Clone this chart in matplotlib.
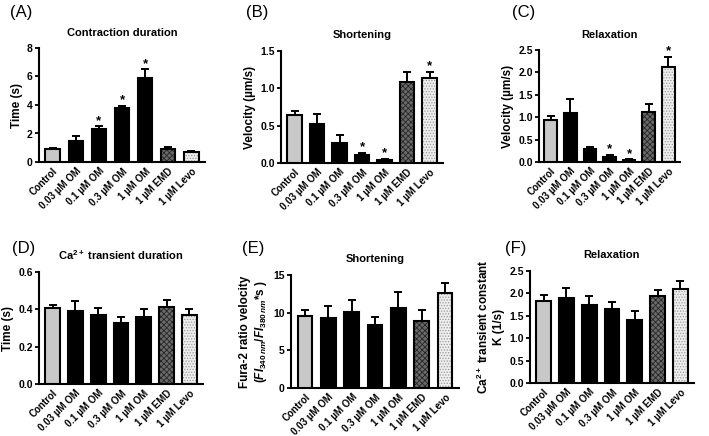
import matplotlib
matplotlib.use("Agg")
import matplotlib.pyplot as plt
import numpy as np

plt.rcParams['font.family'] = ['Liberation Sans', 'DejaVu Sans']
plt.rcParams['mathtext.fontset'] = 'custom'
plt.rcParams['mathtext.rm'] = 'Liberation Sans:bold'
plt.rcParams['mathtext.it'] = 'Liberation Sans:bold:italic'
plt.rcParams['mathtext.bf'] = 'Liberation Sans:bold'
plt.rcParams['hatch.linewidth'] = 0.6

categories = ["Control", "0.03 µM OM", "0.1 µM OM", "0.3 µM OM", "1 µM OM", "1 µM EMD", "1 µM Levo"]

a_vals = [0.9, 1.5, 2.3, 3.8, 5.9, 0.9, 0.7]
a_err = [0.1, 0.35, 0.2, 0.15, 0.6, 0.15, 0.1]
a_star = [2, 3, 4]

b_vals = [0.64, 0.52, 0.27, 0.11, 0.04, 1.08, 1.14]
b_err = [0.06, 0.13, 0.10, 0.03, 0.02, 0.14, 0.08]
b_star = [3, 4, 6]

c_vals = [0.93, 1.10, 0.28, 0.12, 0.04, 1.12, 2.13]
c_err = [0.10, 0.31, 0.06, 0.04, 0.02, 0.18, 0.22]
c_star = [3, 4, 6]

d_vals = [0.405, 0.39, 0.37, 0.325, 0.36, 0.415, 0.37]
d_err = [0.02, 0.055, 0.035, 0.035, 0.04, 0.035, 0.03]

e_vals = [9.6, 9.3, 10.1, 8.4, 10.6, 8.9, 12.6]
e_err = [0.7, 1.6, 1.6, 1.0, 2.1, 1.4, 1.4]

f_vals = [1.84, 1.89, 1.74, 1.66, 1.41, 1.94, 2.09]
f_err = [0.12, 0.23, 0.21, 0.14, 0.19, 0.14, 0.19]

W, H = 709, 436
fig = plt.figure(figsize=(W / 100, H / 100), dpi=100)


def add_ax(x0, x1, ytop, ybot):
    return fig.add_axes([x0 / W, 1 - ybot / H, (x1 - x0) / W, (ybot - ytop) / H])


face = ['#c8c8c8', 'black', 'black', 'black', 'black', '#6a6a6a', '#eeeeee']
hatch = [None, None, None, None, None, 'xxxxxx', '......']
hatchcol = [None, None, None, None, None, '#262626', '#9a9a9a']


def panel(ax, vals, errs, ymax, ystep, title, ylabel, stars=(), fmt='{:.0f}', star_off=None):
    x = np.arange(len(vals))
    ax.set_xlim(-0.6, len(vals) - 0.4)
    ax.set_ylim(0, ymax)
    bw = 0.64
    for i, (v, e) in enumerate(zip(vals, errs)):
        ax.errorbar(x[i], v, yerr=[[0], [e]], fmt='none', ecolor='black', elinewidth=1.4,
                    capsize=3.2, capthick=1.4, zorder=1)
        if hatch[i]:
            ax.bar(x[i], v, width=bw, color=face[i], edgecolor=hatchcol[i], hatch=hatch[i],
                   linewidth=0, zorder=2)
            ax.bar(x[i], v, width=bw, color='none', edgecolor='black', linewidth=1.5, zorder=3)
        else:
            ax.bar(x[i], v, width=bw, color=face[i], edgecolor='black', linewidth=1.5, zorder=3)
    so = star_off if star_off is not None else ymax * 0.05
    for i in stars:
        ax.text(x[i], vals[i] + errs[i] + so, '*', ha='center', va='center', fontsize=9.5,
                fontweight='bold')
    ax.spines['top'].set_visible(False)
    ax.spines['right'].set_visible(False)
    ax.spines['left'].set_linewidth(1.5)
    ax.spines['bottom'].set_linewidth(1.5)
    ticks = np.arange(0, ymax + ystep / 2, ystep)
    ax.set_yticks(ticks)
    ax.set_yticklabels([fmt.format(t) for t in ticks], fontsize=7.5, fontweight='bold')
    ax.tick_params(axis='y', length=3, width=1.3, pad=1.5)
    ax.set_xticks(x)
    ax.set_xticklabels(categories, rotation=45, ha='right', rotation_mode='anchor',
                       fontsize=7, fontweight='bold')
    ax.tick_params(axis='x', length=0, pad=3)
    ax.set_title(title, fontsize=8, fontweight='bold', pad=9)
    ax.set_ylabel(ylabel, fontsize=8.5, fontweight='bold', labelpad=3, linespacing=1.2)


axA = add_ax(39, 205, 48, 162)
panel(axA, a_vals, a_err, 8, 2, 'Contraction duration', 'Time (s)', a_star)
axB = add_ax(281, 443, 51, 163)
panel(axB, b_vals, b_err, 1.5, 0.5, 'Shortening', 'Velocity (µm/s)', b_star, fmt='{:.1f}')
axC = add_ax(539, 680, 50, 162)
panel(axC, c_vals, c_err, 2.5, 0.5, 'Relaxation', 'Velocity (µm/s)', c_star, fmt='{:.1f}')
axD = add_ax(39, 203, 272, 384)
panel(axD, d_vals, d_err, 0.6, 0.2, 'Ca$^{2+}$ transient duration', 'Time (s)', fmt='{:.1f}')
axE = add_ax(291, 459, 275, 388)
panel(axE, e_vals, e_err, 15, 5, 'Shortening',
      'Fura-2 ratio velocity\n($\\mathit{FI}_{340\\,nm}$/$\\mathit{FI}_{380\\,nm}$*s )')
axF = add_ax(530, 694, 271, 383)
panel(axF, f_vals, f_err, 2.5, 0.5, 'Relaxation', 'Ca$^{2+}$ transient constant\nK (1/s)',
      fmt='{:.1f}')

labels = [('(A)', 10, 12), ('(B)', 246, 12), ('(C)', 512, 12),
          ('(D)', 12, 249), ('(E)', 242, 249), ('(F)', 505, 249)]
for t, px, py in labels:
    fig.text(px / W, 1 - py / H, t, fontsize=12, ha='left', va='center')

fig.savefig('out.png', dpi=100)
